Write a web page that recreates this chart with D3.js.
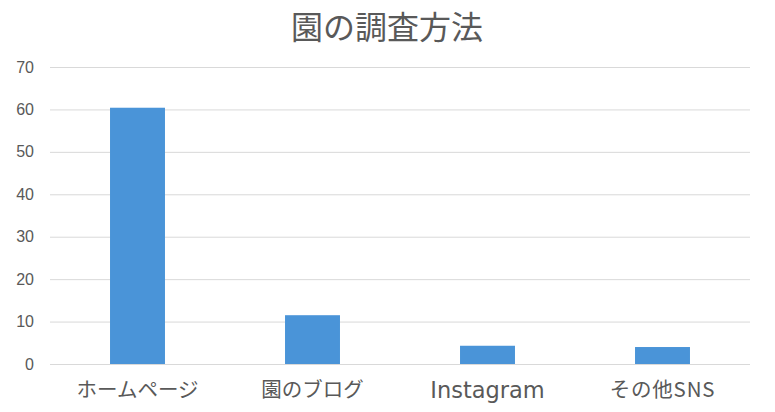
<!DOCTYPE html>
<html><head><meta charset="utf-8">
<script src="https://cdn.jsdelivr.net/npm/d3@7"></script>
<style>body{margin:0;background:#fff}</style>
</head><body>
<svg id="c" width="775" height="412"></svg>
<script>
const categories = ["ホームページ", "園のブログ", "Instagram", "その他SNS"];
const values = [60.4, 11.5, 4.3, 4.0];
const yTicks = [0, 10, 20, 30, 40, 50, 60, 70];
const title = "園の調査方法";

const svg = d3.select("#c");
const m = {left: 50, right: 25, top: 67, bottom: 48};
const W = 775, H = 412;
const font = "'Noto Sans CJK JP', 'Noto Sans', sans-serif";
const textColor = "#595959";

const x = d3.scaleBand().domain(categories).range([m.left, W - m.right]).paddingInner(0.686).paddingOuter(0.343);
const y = d3.scaleLinear().domain([0, 70]).range([H - m.bottom, m.top]);

// gridlines
const gy = svg.append("g").attr("transform", `translate(${m.left},0)`)
  .call(d3.axisLeft(y).tickValues(yTicks).tickSize(-(W - m.left - m.right)).tickPadding(16).tickFormat(d3.format("d")));
gy.select(".domain").remove();
gy.selectAll(".tick line").attr("stroke", "#d9d9d9").attr("stroke-width", 1);
gy.selectAll(".tick text").attr("fill", textColor).attr("font-size", 16).attr("font-family", "'Liberation Sans', Arial, sans-serif");

// bars
svg.append("g").selectAll("rect").data(values).join("rect")
  .attr("x", (d, i) => x(categories[i]))
  .attr("width", x.bandwidth())
  .attr("y", d => y(d))
  .attr("height", d => y(0) - y(d))
  .attr("fill", "#4a94d8");

// x axis
const gx = svg.append("g").attr("transform", `translate(0,${y(0)})`)
  .call(d3.axisBottom(x).tickSize(0).tickPadding(18));
gx.select(".domain").remove();
gx.selectAll(".tick text").attr("fill", textColor).attr("font-size", 20.5).attr("font-family", font)
  .attr("letter-spacing", d => /その他/.test(d) ? "0.8px" : null);
gx.selectAll(".tick text").filter(d => /^[A-Za-z]+$/.test(d))
  .attr("font-family", "'DejaVu Sans', sans-serif").attr("font-size", 22.5);

// title
svg.append("text").attr("x", 387).attr("y", 39).attr("text-anchor", "middle")
  .attr("fill", textColor).attr("font-size", 32).attr("font-family", font).text(title);
</script>
</body></html>
